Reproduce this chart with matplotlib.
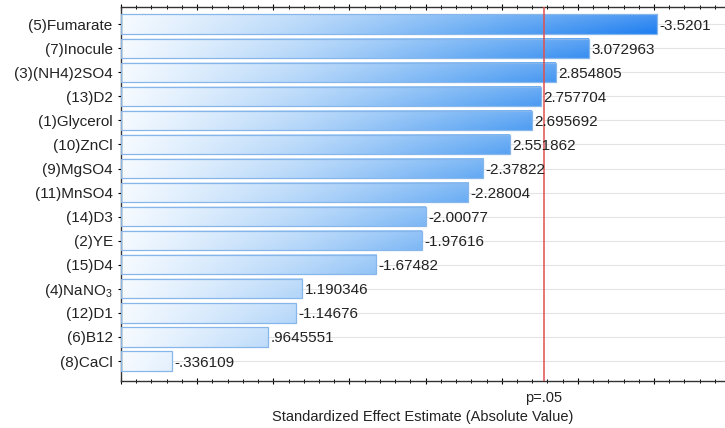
import numpy as np
import matplotlib
matplotlib.use("Agg")
import matplotlib.pyplot as plt
from matplotlib.colors import LinearSegmentedColormap
from matplotlib.patches import Rectangle
from matplotlib.ticker import MultipleLocator, NullFormatter
import matplotlib.transforms as mtransforms

plt.rcParams['font.family'] = ['Liberation Sans', 'DejaVu Sans']
plt.rcParams['mathtext.fontset'] = 'custom'
plt.rcParams['mathtext.rm'] = 'Liberation Sans'
plt.rcParams['mathtext.it'] = 'Liberation Sans'

# Pareto chart of standardized effects (top to bottom)
factors = ["(5)Fumarate", "(7)Inocule", "(3)(NH4)2SO4", "(13)D2", "(1)Glycerol",
           "(10)ZnCl", "(9)MgSO4", "(11)MnSO4", "(14)D3", "(2)YE", "(15)D4",
           "(4)NaNO$_3$", "(12)D1", "(6)B12", "(8)CaCl"]
effects = [-3.5201, 3.072963, 2.854805, 2.757704, 2.695692,
           2.551862, -2.37822, -2.28004, -2.00077, -1.97616, -1.67482,
           1.190346, -1.14676, 0.9645551, -0.336109]
p_critical = 2.776
x_max = 3.966


def fmt(v):
    s = f"{v:.7g}"
    s = s.replace("-0.", "-.")
    if s.startswith("0."):
        s = s[1:]
    return s


fig = plt.figure(figsize=(7.25, 4.28), dpi=100)
ax = fig.add_axes([0.1669, 0.1098, 0.8331, 0.8738])

cmap = LinearSegmentedColormap.from_list(
    "eff", [(0.0, "#f5faff"), (0.3, "#b2d5f9"), (0.62, "#5ea6f3"),
            (0.9, "#1d7df0"), (1.0, "#1470e6")])

n = len(factors)
ypos = np.arange(n)
bar_h = 0.8

# light horizontal grid through each category
for y in ypos:
    ax.axhline(y, color="#e4e4e4", lw=0.8, zorder=0)

for y, v in zip(ypos, effects):
    w = abs(v)
    cols = int(max(2, 512 * w / x_max))
    xs = np.linspace(0, w / x_max, cols)
    rows = 8
    img = cmap(np.tile(xs, (rows, 1)))[:, :, :3]
    # slight brightening toward the top of each bar
    shade = np.linspace(0.18, 0.0, rows)[:, None, None]
    img = img + (1 - img) * shade
    ax.imshow(img, extent=[0, w, y + bar_h / 2, y - bar_h / 2],
              aspect="auto", interpolation="bilinear", zorder=2)
    ax.add_patch(Rectangle((0, y - bar_h / 2), w, bar_h, fill=False,
                           edgecolor="#86b6ea", lw=0.9, zorder=3))
    ax.text(w + 0.015, y, fmt(v), va="center_baseline", ha="left",
            fontsize=11, color="#222222", zorder=5)

ax.axvline(p_critical, color="#e05050", lw=1.1, zorder=4)

ax.set_xlim(0, x_max)
ax.set_ylim(n - 1 + 0.83, -0.71)
ax.set_yticks(ypos)
ax.set_yticklabels(factors, fontsize=11, color="#222222")

ax.xaxis.set_major_locator(MultipleLocator(0.5))
ax.xaxis.set_minor_locator(MultipleLocator(0.1))
ax.xaxis.set_major_formatter(NullFormatter())
ax.tick_params(axis="x", which="major", direction="inout", length=5,
               width=0.8, top=True, bottom=True)
ax.tick_params(axis="x", which="minor", direction="inout", length=3,
               width=0.7, top=True, bottom=True)
ax.tick_params(axis="y", direction="inout", length=4, width=0.8, pad=4)

for side in ["left", "bottom", "top"]:
    ax.spines[side].set_color("#333333")
    ax.spines[side].set_linewidth(1.0)
ax.spines["right"].set_visible(False)

trans = mtransforms.blended_transform_factory(ax.transData, ax.transAxes)
ax.text(p_critical, -0.026, "p=.05", transform=trans, ha="center", va="top",
        fontsize=10.5, color="#222222")
ax.set_xlabel("Standardized Effect Estimate (Absolute Value)", fontsize=10.5,
              color="#222222", labelpad=15)

fig.savefig("out.png", dpi=100)
